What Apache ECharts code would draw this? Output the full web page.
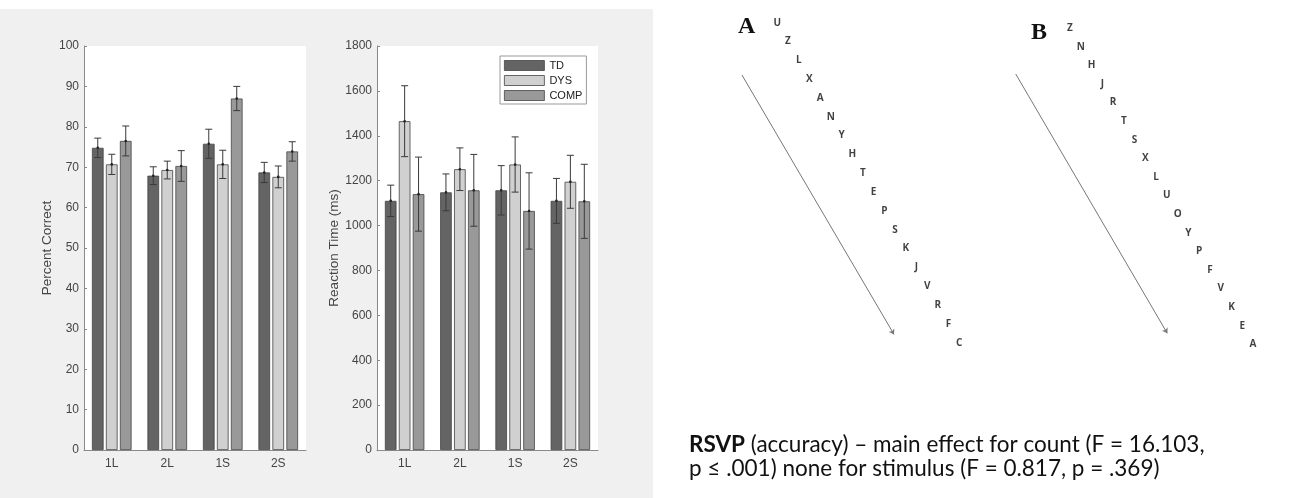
<!DOCTYPE html>
<html><head><meta charset="utf-8">
<script src="https://cdn.jsdelivr.net/npm/echarts@6/dist/echarts.min.js"></script>
<style>html,body{margin:0;padding:0;background:#fff}#c{width:1306px;height:498px}</style>
</head><body><div id="c"></div>
<script>
// ---- data ----
const categories = ['1L', '2L', '1S', '2S'];
const groupNames = ['TD', 'DYS', 'COMP'];
const accTD = [74.8, 67.9, 75.8, 68.7];
const accDYS = [70.7, 69.3, 70.7, 67.6];
const accCOMP = [76.5, 70.3, 87.0, 73.9];
const accErrTD = [2.4, 2.2, 3.6, 2.5];
const accErrDYS = [2.5, 2.2, 3.5, 2.7];
const accErrCOMP = [3.7, 3.8, 3.0, 2.4];
const rtTD = [1110, 1148, 1157, 1110];
const rtDYS = [1465, 1251, 1272, 1195];
const rtCOMP = [1140, 1157, 1065, 1108];
const rtErrTD = [70, 82, 110, 100];
const rtErrDYS = [158, 95, 123, 118];
const rtErrCOMP = [165, 160, 170, 165];
const accTicks = [0, 100, 10];
const rtTicks = [0, 1800, 200];
const lettersA = ['U','Z','L','X','A','N','Y','H','T','E','P','S','K','J','V','R','F','C'];
const lettersB = ['Z','N','H','J','R','T','S','X','L','U','O','Y','P','F','V','K','E','A'];
const arrowA = [[-3.3, 2.78], [10.9, 16.56]];
const arrowB = [[-5.04, 2.46], [9.04, 16.41]];

const colors = ['#646464', '#d0d0d0', '#999999'];
const BW = 0.21, BG = 0.2;

function errSeries(name, means, errs, k, axisIdx) {
  return {
    type: 'custom', name: name + ' err', xAxisIndex: axisIdx, yAxisIndex: axisIdx, z: 5,
    silent: true,
    data: means.map((m, i) => [i, m - errs[i], m + errs[i], m]),
    renderItem: function (params, api) {
      const band = api.size([1, 0])[0];
      const w = band * BW, g = w * BG;
      const off = -(3 * w + 2 * g) / 2 + w / 2 + k * (w + g);
      const lo = api.coord([api.value(0), api.value(1)]);
      const hi = api.coord([api.value(0), api.value(2)]);
      const mid = api.coord([api.value(0), api.value(3)]);
      const x = lo[0] + off, cap = 3.5;
      const st = { stroke: '#3a3a3a', lineWidth: 1 };
      return { type: 'group', children: [
        { type: 'line', shape: { x1: x, y1: lo[1], x2: x, y2: hi[1] }, style: st },
        { type: 'line', shape: { x1: x - cap, y1: lo[1], x2: x + cap, y2: lo[1] }, style: st },
        { type: 'line', shape: { x1: x - cap, y1: hi[1], x2: x + cap, y2: hi[1] }, style: st },
        { type: 'circle', shape: { cx: x, cy: mid[1], r: 1.3 }, style: { fill: '#222' } }
      ]};
    }
  };
}
function barSeries(name, data, k, axisIdx) {
  return {
    type: 'bar', name: name, xAxisIndex: axisIdx, yAxisIndex: axisIdx, data: data,
    barWidth: (BW * 100) + '%', barGap: (BG * 100) + '%',
    itemStyle: { color: colors[k], borderColor: '#444', borderWidth: 0.8 },
    emphasis: { disabled: true }
  };
}
const axisFont = { fontFamily: 'Liberation Sans, Arial, sans-serif', fontSize: 12, color: '#444' };
function yAx(idx, t, name, gap) {
  return {
    type: 'value', gridIndex: idx, min: t[0], max: t[1], interval: t[2],
    axisLine: { show: true, lineStyle: { color: '#8a8a8a', width: 1 } },
    axisTick: { show: true, inside: true, length: 3, lineStyle: { color: '#8a8a8a' } },
    splitLine: { show: false },
    axisLabel: Object.assign({ margin: 5, formatter: v => String(v) }, axisFont),
    name: name, nameLocation: 'middle', nameGap: gap, nameRotate: 90,
    nameTextStyle: { fontFamily: 'Liberation Sans, Arial, sans-serif', fontSize: 13.5, color: '#444' }
  };
}
function xAx(idx) {
  return {
    type: 'category', gridIndex: idx, data: categories,
    axisLine: { show: true, lineStyle: { color: '#8a8a8a', width: 1 } },
    axisTick: { show: false },
    axisLabel: Object.assign({ margin: 8 }, axisFont)
  };
}
function letterScatter(letters, idx) {
  return {
    type: 'scatter', xAxisIndex: idx, yAxisIndex: idx, symbolSize: 0, clip: false, silent: true,
    data: letters.map((l, i) => [i, i, l]),
    label: { show: true, position: 'inside', formatter: p => p.data[2],
      fontFamily: 'Open Sans, sans-serif', fontWeight: 'bold', fontSize: 10, color: '#111' }
  };
}
function arrowSeries(coords, idx) {
  return {
    type: 'lines', coordinateSystem: 'cartesian2d', xAxisIndex: idx, yAxisIndex: idx, clip: false, silent: true,
    data: [{ coords: coords }], symbol: ['none', 'arrow'], symbolSize: 5,
    lineStyle: { color: '#777', width: 1, opacity: 1 }
  };
}
const hiddenX = (idx, max) => ({ type: 'value', gridIndex: idx, min: 0, max: max, show: false });
const hiddenY = (idx, max) => ({ type: 'value', gridIndex: idx, min: 0, max: max, inverse: true, show: false });

const chart = echarts.init(document.getElementById('c'), null, { renderer: 'canvas' });
chart.setOption({
  animation: false,
  backgroundColor: '#ffffff',
  graphic: [
    { type: 'rect', z: -10, shape: { x: 0, y: 9, width: 653, height: 489 }, style: { fill: '#f0f0f0' } }
  ],
  title: [
    { text: 'A', left: 733, top: 10, textStyle: { fontFamily: 'Liberation Serif, serif', fontWeight: 'bold', fontSize: 24, color: '#111' } },
    { text: 'B', left: 1026, top: 16, textStyle: { fontFamily: 'Liberation Serif, serif', fontWeight: 'bold', fontSize: 24, color: '#111' } },
    { text: '{b|RSVP} (accuracy) – main effect for count (F = 16.103,\np ≤ .001) none for stimulus (F = 0.817, p = .369)',
      left: 684, top: 428,
      textStyle: { fontFamily: 'Lato, sans-serif', fontSize: 22.5, fontWeight: 'normal', color: '#111', lineHeight: 24,
        rich: { b: { fontFamily: 'Lato, sans-serif', fontSize: 22.5, fontWeight: 'bold', color: '#111', lineHeight: 24 } } } }
  ],
  legend: {
    show: true, orient: 'vertical', left: 500, top: 56, data: groupNames,
    itemWidth: 40, itemHeight: 10, itemGap: 4, padding: [4, 4, 3, 4],
    backgroundColor: '#fff', borderColor: '#999', borderWidth: 1,
    icon: 'rect', selectedMode: false,
    textStyle: { fontFamily: 'Liberation Sans, Arial, sans-serif', fontSize: 11, color: '#222' },
    itemStyle: { borderColor: '#444', borderWidth: 0.8 }
  },
  grid: [
    { left: 84, top: 46, width: 222, height: 404, show: true, backgroundColor: '#fff', borderWidth: 0 },
    { left: 377, top: 46, width: 221, height: 404, show: true, backgroundColor: '#fff', borderWidth: 0 },
    { left: 777.3, top: 22.7, width: 182, height: 320, show: false },
    { left: 1070, top: 28.3, width: 183, height: 316, show: false }
  ],
  xAxis: [xAx(0), xAx(1), hiddenX(2, 17), hiddenX(3, 17)],
  yAxis: [yAx(0, accTicks, 'Percent Correct', 30), yAx(1, rtTicks, 'Reaction Time (ms)', 36), hiddenY(2, 17), hiddenY(3, 17)],
  series: [
    barSeries('TD', accTD, 0, 0), barSeries('DYS', accDYS, 1, 0), barSeries('COMP', accCOMP, 2, 0),
    errSeries('TD', accTD, accErrTD, 0, 0), errSeries('DYS', accDYS, accErrDYS, 1, 0), errSeries('COMP', accCOMP, accErrCOMP, 2, 0),
    barSeries('TD', rtTD, 0, 1), barSeries('DYS', rtDYS, 1, 1), barSeries('COMP', rtCOMP, 2, 1),
    errSeries('TD', rtTD, rtErrTD, 0, 1), errSeries('DYS', rtDYS, rtErrDYS, 1, 1), errSeries('COMP', rtCOMP, rtErrCOMP, 2, 1),
    letterScatter(lettersA, 2), arrowSeries(arrowA, 2),
    letterScatter(lettersB, 3), arrowSeries(arrowB, 3)
  ]
});
</script></body></html>
